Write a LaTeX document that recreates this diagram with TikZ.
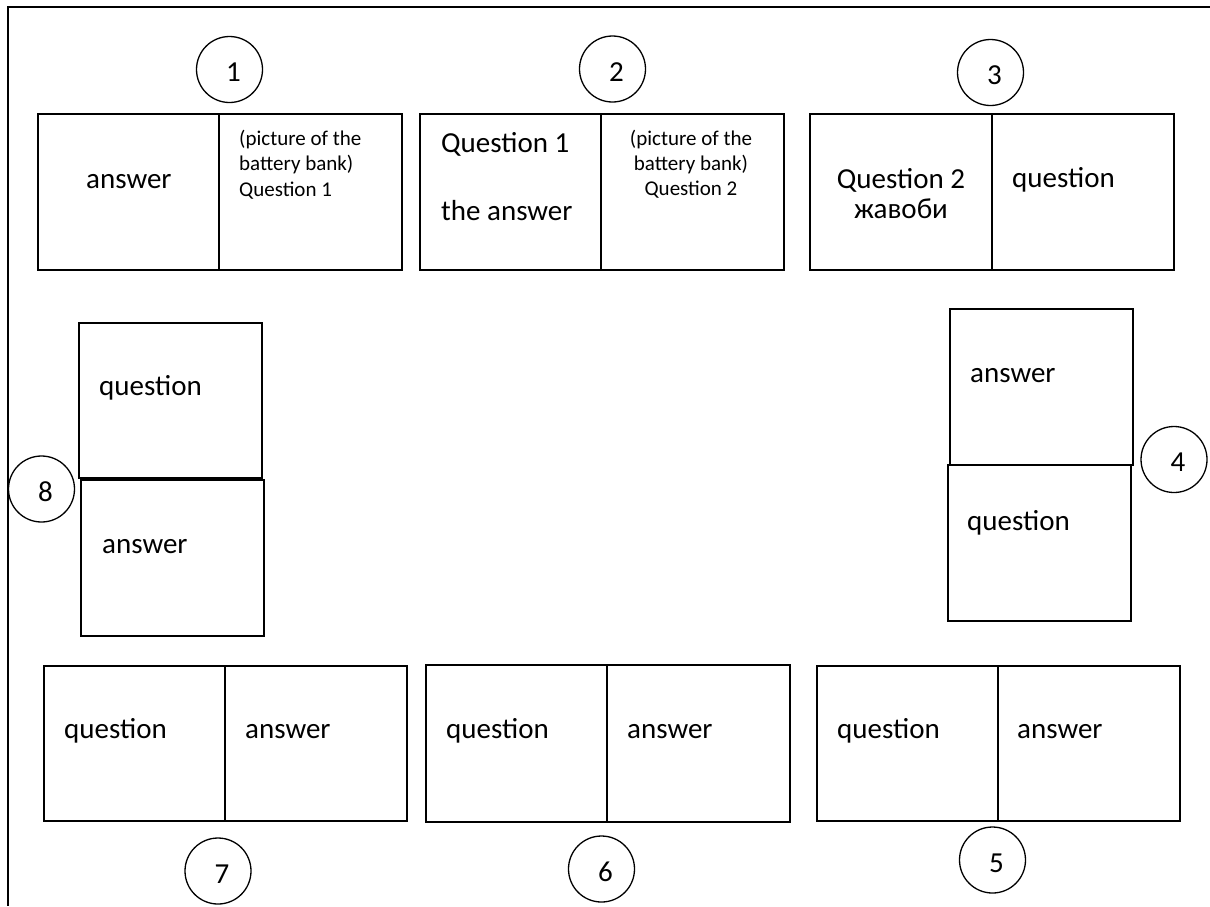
\documentclass[tikz,border=0pt]{standalone}
\usepackage{fontspec}
\setmainfont{Carlito}
\begin{document}
\begin{tikzpicture}[x=1pt,y=-1pt,
  cell/.style n args={2}{draw,line width=1.6pt,inner sep=0pt,anchor=north west,minimum width=#1,minimum height=#2},
  numc/.style={draw,circle,line width=1.3pt,minimum size=66pt,inner sep=0pt},
  numt/.style={font=\fontsize{29}{35}\selectfont,inner sep=0pt},
  big/.style={font=\fontsize{29}{35}\selectfont,inner sep=0pt,anchor=base west},
  bigc/.style={font=\fontsize{29}{35}\selectfont,inner sep=0pt,anchor=base},
  small/.style={font=\fontsize{21}{25.5}\selectfont,inner sep=0pt,anchor=base west},
  smallc/.style={font=\fontsize{21}{25.5}\selectfont,inner sep=0pt,anchor=base},
  frame/.style={line width=1.4pt}]
\useasboundingbox (0,0) rectangle (1210,906);
% frame
\coordinate (ftl) at (8,7);
\coordinate (ftr) at (1210,7);
\coordinate (fbl) at (8,906);
\draw[frame] (ftr) -- (ftl) -- (fbl);
% box 1
\node[cell={181}{156}] (b1l) at (37,113) {};
\node[cell={183}{156}] (b1r) at (218,113) {};
\node[big] (t1a) at (86,188) {answer};
\node[small] (t1b) at (239,145) {(picture of the};
\node[small] (t1c) at (239,170) {battery bank)};
\node[small] (t1d) at (239,196) {Question 1};
% box 2
\node[cell={181}{156}] (b2l) at (419,113) {};
\node[cell={183}{156}] (b2r) at (600,113) {};
\node[big] (t2a) at (441,152) {Question 1};
\node[big] (t2b) at (441,220) {the answer};
\node[smallc] (t2c) at (691,145) {(picture of the};
\node[smallc] (t2d) at (691,170) {battery bank)};
\node[smallc] (t2e) at (691,195) {Question 2};
% box 3
\node[cell={182}{156}] (b3l) at (809,113) {};
\node[cell={182}{156}] (b3r) at (991,113) {};
\node[bigc] (t3a) at (901,188) {Question 2};
\node[bigc] (t3b) at (901,218) {жавоби};
\node[big] (t3c) at (1012,187) {question};
% box 4
\node[cell={183}{156}] (b4u) at (949,308) {};
\node[cell={183}{156}] (b4d) at (947,464) {};
\node[big] (t4a) at (970,382) {answer};
\node[big] (t4b) at (967,530) {question};
% box 8
\node[cell={183}{155}] (b8u) at (78,322) {};
\node[cell={183}{156}] (b8d) at (80,479) {};
\node[big] (t8a) at (99,395) {question};
\node[big] (t8b) at (102,553) {answer};
% box 7
\node[cell={181}{155}] (b7l) at (43,665) {};
\node[cell={182}{155}] (b7r) at (224,665) {};
\node[big] (t7a) at (64,738) {question};
\node[big] (t7b) at (245,738) {answer};
% box 6
\node[cell={181}{157}] (b6l) at (425,664) {};
\node[cell={183}{157}] (b6r) at (606,664) {};
\node[big] (t6a) at (446,738) {question};
\node[big] (t6b) at (627,738) {answer};
% box 5
\node[cell={181}{155}] (b5l) at (816,665) {};
\node[cell={182}{155}] (b5r) at (997,665) {};
\node[big] (t5a) at (837,738) {question};
\node[big] (t5b) at (1017,738) {answer};
% number circles
\node[numc] (c1) at (229.5,69.5) {};
\node[numc] (c2) at (612.5,69) {};
\node[numc] (c3) at (990.5,72.5) {};
\node[numc] (c4) at (1174,459.5) {};
\node[numc] (c5) at (992.5,860) {};
\node[numc] (c6) at (601.5,869) {};
\node[numc] (c7) at (218,871) {};
\node[numc] (c8) at (41.5,489) {};
\node[numt] (n1) at ([shift={(4,3)}]c1.center) {1};
\node[numt] (n2) at ([shift={(4,3)}]c2.center) {2};
\node[numt] (n3) at ([shift={(4,3)}]c3.center) {3};
\node[numt] (n4) at ([shift={(4,3)}]c4.center) {4};
\node[numt] (n5) at ([shift={(4,3)}]c5.center) {5};
\node[numt] (n6) at ([shift={(4,3)}]c6.center) {6};
\node[numt] (n7) at ([shift={(4,3)}]c7.center) {7};
\node[numt] (n8) at ([shift={(4,3)}]c8.center) {8};
\end{tikzpicture}
\end{document}
